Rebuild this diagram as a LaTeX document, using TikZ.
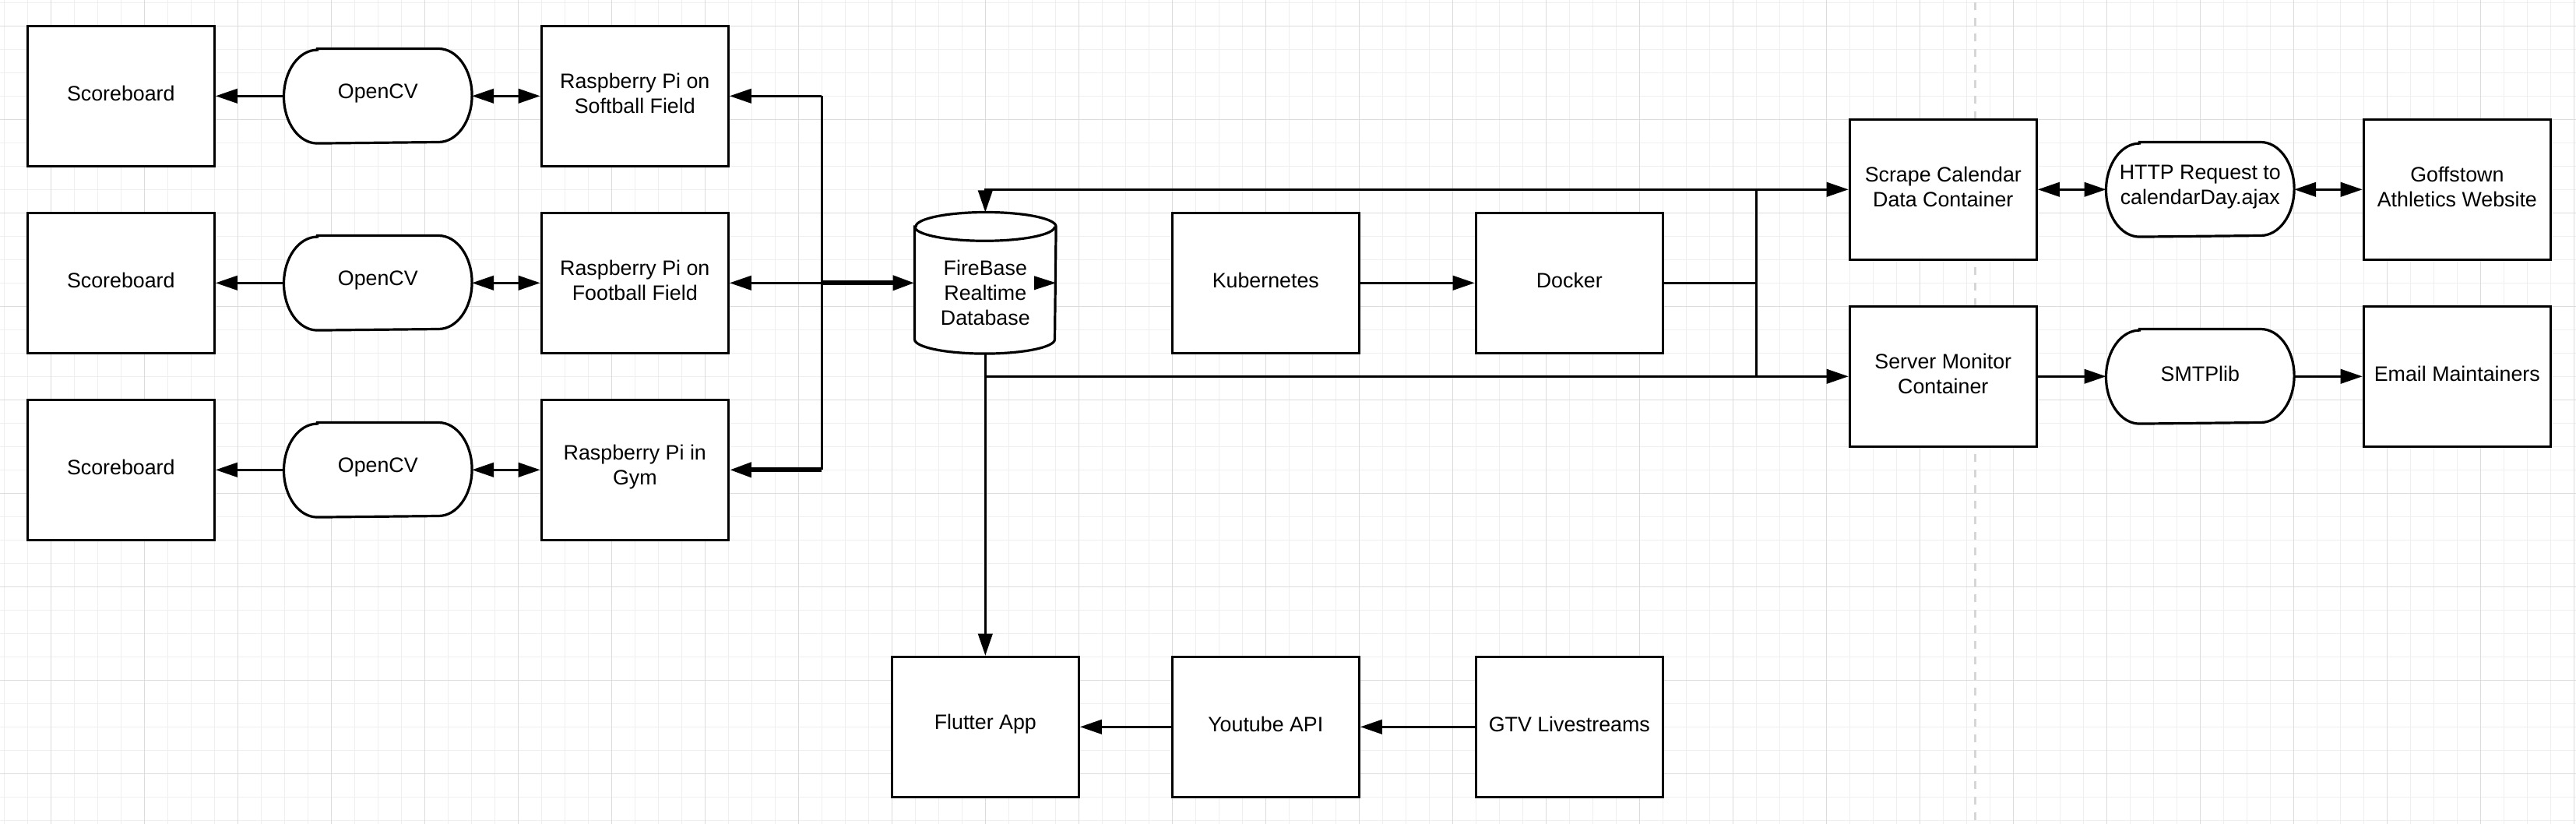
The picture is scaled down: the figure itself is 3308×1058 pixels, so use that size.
\documentclass[tikz,border=0pt]{standalone}
\usepackage{fontspec}
\setmainfont{Liberation Sans}
\usetikzlibrary{arrows.meta}
\pgfdeclarelayer{gridlayer}
\pgfdeclarelayer{shapelayer}
\pgfsetlayers{gridlayer,shapelayer,main}
\definecolor{gminor}{HTML}{EFEFEF}
\definecolor{gmajor}{HTML}{DCDCDC}
\definecolor{gdash}{HTML}{D6D6D6}
\begin{document}
\begin{tikzpicture}[x=0.25pt,y=-0.25pt,
  >={Triangle[length=7pt,width=4.6pt]},
  lbl/.style={font=\fontsize{6.7pt}{8pt}\selectfont, align=center, text=black, inner sep=0pt},
  box/.style={draw=black, line width=0.8pt, fill=white, minimum width=60pt, minimum height=45pt, inner sep=0pt, label={[lbl,yshift=0.9pt]center:#1}},
  term/.style={minimum width=60pt, minimum height=30pt, inner sep=0pt, label={[lbl,yshift=0.9pt]center:#1}},
  outline/.style={draw=black, line width=0.8pt, fill=white},
  conn/.style={draw=black, line width=0.7pt},
  connthick/.style={draw=black, line width=1.4pt},
  gridline/.style={line width=0.3pt}
]
\useasboundingbox (0,0) rectangle (3308,1058);

% background grid
\begin{pgfonlayer}{gridlayer}
\fill[white] (0,0) rectangle (3308,1058);
\foreach \i in {0,...,110} \draw[gridline,gminor] ({5.3+30*\i},0) -- ({5.3+30*\i},1058);
\foreach \j in {0,...,35} \draw[gridline,gminor] (0,{3.3+30*\j}) -- (3308,{3.3+30*\j});
\foreach \i in {2,6,...,110} \draw[gridline,gmajor] ({5.3+30*\i},0) -- ({5.3+30*\i},1058);
\foreach \j in {1,5,...,33} \draw[gridline,gmajor] (0,{3.3+30*\j}) -- (3308,{3.3+30*\j});
\draw[gdash, line width=0.75pt, dash pattern=on 2.5pt off 2.5pt] (2536.7,3.3) -- (2536.7,1058);
\end{pgfonlayer}

% nodes
\node[box={Scoreboard}] (sb1) at (155.3,123.3) {};
\node[box={Scoreboard}] (sb2) at (155.3,363.3) {};
\node[box={Scoreboard}] (sb3) at (155.3,603.3) {};
\node[term={OpenCV}] (cv1) at (485.3,123.3) {};
\node[term={OpenCV}] (cv2) at (485.3,363.3) {};
\node[term={OpenCV}] (cv3) at (485.3,603.3) {};
\node[box={Raspberry Pi on\\Softball Field}] (rp1) at (815.3,123.3) {};
\node[box={Raspberry Pi on\\Football Field}] (rp2) at (815.3,363.3) {};
\node[box={Raspberry Pi in\\Gym}] (rp3) at (815.3,603.3) {};
\node[minimum width=45pt, minimum height=45pt, inner sep=0pt] (fb) at (1265.3,363.3) {};
\node[lbl] (fbt) at (1265.3,375.5) {FireBase\\Realtime\\Database};
\node[box={Kubernetes}] (kub) at (1625.3,363.3) {};
\node[box={Docker}] (dock) at (2015.3,363.3) {};
\node[box={Scrape Calendar\\Data Container}] (scr) at (2495.3,243.3) {};
\node[box={Server Monitor\\Container}] (srv) at (2495.3,483.3) {};
\node[term={HTTP Request to\\calendarDay.ajax}] (http) at (2825.3,243.3) {};
\node[term={SMTPlib}] (smtp) at (2825.3,483.3) {};
\node[box={Goffstown\\Athletics Website}] (gof) at (3155.3,243.3) {};
\node[box={Email Maintainers}] (mail) at (3155.3,483.3) {};
\node[box={Flutter App}] (flut) at (1265.3,933.3) {};
\node[box={Youtube API}] (yt) at (1625.3,933.3) {};
\node[box={GTV Livestreams}] (gtv) at (2015.3,933.3) {};

% outlines of terminators and cylinder
\begin{pgfonlayer}{shapelayer}
\foreach \n in {cv1,cv2,cv3,http,smtp}
  \draw[outline] ([xshift=10.75pt]\n.north west) -- ([xshift=-10.75pt]\n.north east)
    arc[start angle=90,end angle=-90,x radius=10.75pt,y radius=15pt]
    -- ([xshift=10.75pt]\n.south west)
    arc[start angle=270,end angle=90,x radius=10.75pt,y radius=15pt] -- cycle;
\draw[outline] ([yshift=-4.6pt]fb.north west) -- ([yshift=4.6pt]fb.south west)
  arc[start angle=180,end angle=360,x radius=22.5pt,y radius=4.6pt]
  -- ([yshift=-4.6pt]fb.north east)
  arc[start angle=0,end angle=180,x radius=22.5pt,y radius=4.6pt] -- cycle;
\draw[draw=black, line width=0.8pt] ([yshift=-4.6pt]fb.north west)
  arc[start angle=180,end angle=360,x radius=22.5pt,y radius=4.6pt];
\end{pgfonlayer}

% junction points
\coordinate (bt) at (1055.3,123.3);
\coordinate (bm) at (1055.3,363.3);
\coordinate (bb) at (1055.3,603.3);
\coordinate (jt) at (2255.3,243.3);
\coordinate (jm) at (2255.3,363.3);
\coordinate (jb) at (2255.3,483.3);

% connectors
\foreach \k in {1,2,3} {
  \draw[conn,->] (cv\k.west) -- (sb\k.east);
  \draw[conn,<->] (cv\k.east) -- (rp\k.west);
}
\draw[conn] (bt) -- (bb);
\draw[conn,<-] (rp1.east) -- (bt);
\draw[conn,<-] (rp2.east) -- (bm);
\draw[connthick,<-] (rp3.east) -- (bb);
\draw[connthick,->] (bm) -- (fb.west);
\fill[black] (fb.east) -- ++(-28,-9) -- ++(0,18) -- cycle;

\draw[conn,<->] (fb.north) |- (scr.west);
\draw[conn] (jt) -- (jb);
\draw[conn] (dock.east) -- (jm);
\draw[conn,->] (fb.south) |- (srv.west);
\draw[conn,->] (fb.south) -- (flut.north);
\draw[conn,->] (kub) -- (dock);

\draw[conn,<->] (scr) -- (http);
\draw[conn,<->] (http) -- (gof);
\draw[conn,->] (srv) -- (smtp);
\draw[conn,->] (smtp) -- (mail);

\draw[conn,->] (gtv) -- (yt);
\draw[conn,->] (yt) -- (flut);
\end{tikzpicture}
\end{document}
